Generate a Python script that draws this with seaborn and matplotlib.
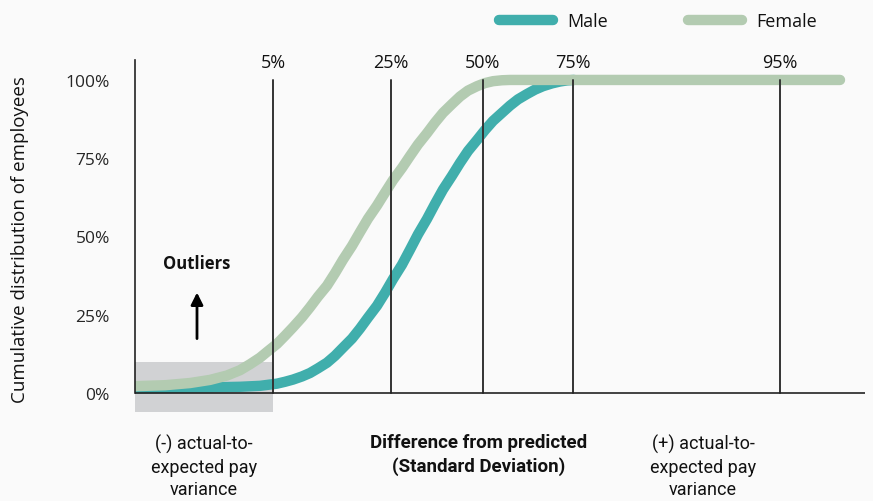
import matplotlib
matplotlib.use('Agg')
import matplotlib.pyplot as plt
import matplotlib.patches as mpatches
from matplotlib.lines import Line2D
import pandas as pd
import seaborn as sns

# x positions are in chart units (1 unit ~ 100 px in the reference), y in %
female_x = [0.00, 0.30, 0.55, 0.75, 0.92, 1.05, 1.15, 1.25, 1.33, 1.42, 1.50, 1.58,
            1.67, 1.75, 1.83, 1.92, 2.00, 2.08, 2.17, 2.25, 2.33, 2.42, 2.50, 2.58,
            2.67, 2.75, 2.83, 2.92, 3.00, 3.08, 3.17, 3.25, 3.33, 3.42, 3.50, 3.58,
            3.67, 3.75, 7.05]
female_y = [2.2, 2.5, 3.2, 4.2, 5.6, 7.3, 9.2, 11.3, 13.4, 15.7, 18.3, 21.0,
            24.2, 27.4, 30.8, 34.3, 38.3, 42.6, 47.0, 51.4, 55.7, 59.9, 64.0, 68.0,
            71.9, 75.7, 79.4, 83.0, 86.4, 89.5, 92.3, 94.7, 96.6, 98.0, 99.0, 99.6,
            99.9, 100, 100]
male_x = [0.00, 0.45, 0.75, 1.05, 1.25, 1.42, 1.50, 1.58, 1.67, 1.75, 1.83, 1.92,
          2.00, 2.08, 2.17, 2.25, 2.33, 2.42, 2.50, 2.58, 2.67, 2.75, 2.83, 2.92,
          3.00, 3.08, 3.17, 3.25, 3.33, 3.42, 3.50, 3.58, 3.67, 3.75, 3.83, 3.92,
          4.00, 4.08, 4.17, 4.25, 4.32, 4.39]
male_y = [1.5, 1.7, 1.8, 2.0, 2.3, 3.0, 3.6, 4.3, 5.3, 6.4, 7.9, 9.7,
          11.9, 14.5, 17.4, 20.6, 24.1, 27.9, 32.0, 36.4, 41.0, 45.8, 50.7, 55.6,
          60.4, 65.0, 69.4, 73.5, 77.3, 80.8, 84.0, 86.9, 89.5, 91.8, 93.8, 95.5,
          96.9, 98.0, 98.9, 99.5, 99.85, 100]

pct_labels = ['5%', '25%', '50%', '75%', '95%']
pct_x = [1.38, 2.56, 3.48, 4.38, 6.45]
y_ticks = [0, 25, 50, 75, 100]

MALE = '#40aeac'
FEMALE = '#b3cbb1'
BG = '#fafafa'

df = pd.concat([
    pd.DataFrame({'x': male_x, 'y': male_y, 'sex': 'Male'}),
    pd.DataFrame({'x': female_x, 'y': female_y, 'sex': 'Female'}),
])

sns.set_theme(style='white')
plt.rcParams['font.family'] = ['Open Sans', 'DejaVu Sans']
plt.rcParams['text.color'] = '#111111'

fig = plt.figure(figsize=(8.73, 5.02), dpi=100, facecolor=BG)
ax = fig.add_axes([135 / 873, 0.1745, 730 / 873, 0.7048])
ax.set_facecolor(BG)

sns.lineplot(data=df, x='x', y='y', hue='sex', hue_order=['Male', 'Female'],
             palette={'Male': MALE, 'Female': FEMALE}, linewidth=7.5,
             legend=False, sort=False, ax=ax, zorder=3)
for ln in ax.lines:
    ln.set_solid_capstyle('round')
    ln.set_solid_joinstyle('round')

# outlier band
ax.add_patch(mpatches.Rectangle((0, -6.1), pct_x[0], 16, facecolor='#d1d2d4',
                                edgecolor='none', zorder=1, clip_on=False))

# percentile lines
for lx, lab in zip(pct_x, pct_labels):
    ax.plot([lx, lx], [0, 100], color='#333333', lw=1.4, zorder=4)
    ax.text(lx, 103, lab, ha='center', va='bottom', fontsize=13)

ax.axhline(0, color='#222222', lw=1.2, zorder=4)
ax.set_xlim(0, 7.3)
ax.set_ylim(-6.5, 106.5)
for s in ['top', 'right', 'bottom']:
    ax.spines[s].set_visible(False)
ax.spines['left'].set_bounds(0, 106.5)
ax.spines['left'].set_color('#222222')
ax.spines['left'].set_linewidth(1.2)
ax.spines['left'].set_zorder(5)

ax.set_xticks([])
ax.set_yticks(y_ticks)
ax.set_yticklabels([f'{v}%' for v in y_ticks], fontsize=12.5)
ax.tick_params(axis='y', length=0, pad=18)
ax.set_xlabel('')
ax.set_ylabel('')

fig.text(20 / 873, 1 - 240 / 502, 'Cumulative distribution of employees',
         rotation=90, ha='center', va='center', fontsize=13.5)

# outliers annotation
ax.text(0.62, 41.5, 'Outliers', ha='center', va='center', fontsize=12,
        fontweight='bold')
ax.annotate('', xy=(0.62, 33), xytext=(0.62, 16.5),
            arrowprops=dict(arrowstyle='-|>', color='black', lw=2,
                            mutation_scale=18))

# bottom labels
narrow = ['Roboto', 'DejaVu Sans']
fig.text(204 / 873, 1 - 467 / 502, '(-) actual-to-\nexpected pay\nvariance',
         ha='center', va='center', fontsize=13, family=narrow, linespacing=1.3)
fig.text(479 / 873, 1 - 455 / 502, 'Difference from predicted\n(Standard Deviation)',
         ha='center', va='center', fontsize=13.5, family=narrow,
         fontweight='bold', linespacing=1.3)
fig.text(703 / 873, 1 - 467 / 502, '(+) actual-to-\nexpected pay\nvariance',
         ha='center', va='center', fontsize=13, family=narrow, linespacing=1.3)

handles = [Line2D([], [], color=MALE, lw=7.5, solid_capstyle='round'),
           Line2D([], [], color=FEMALE, lw=7.5, solid_capstyle='round')]
fig.legend(handles, ['Male', 'Female'], loc='center', ncol=2, frameon=False,
           bbox_to_anchor=(658 / 873, 1 - 22 / 502), fontsize=13,
           handlelength=3.0, columnspacing=4.4, handletextpad=0.8)

fig.savefig('out.png', dpi=100, facecolor=BG)
